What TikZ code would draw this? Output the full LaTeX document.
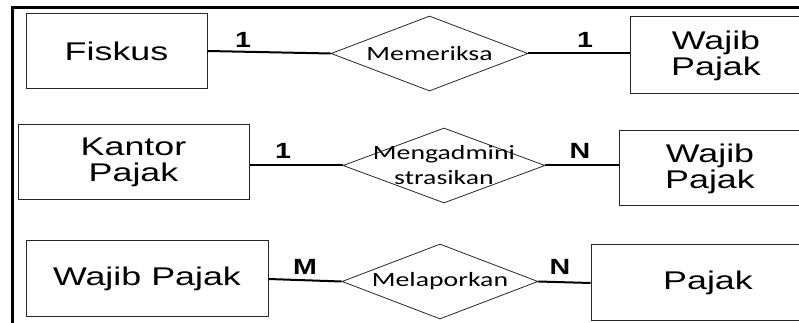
\documentclass[tikz,border=0pt]{standalone}
\usepackage{fontspec}
\setmainfont{Liberation Sans}
\newfontfamily\boxfont[FakeStretch=1.4]{Liberation Sans}
\newfontfamily\cardfont[FakeStretch=1.3]{Liberation Sans}
\newfontfamily\relfont[FakeStretch=1.37]{Carlito}
\usetikzlibrary{shapes.geometric}
\begin{document}
\begin{tikzpicture}[x=0.75pt,y=-0.75pt,
  entity/.style={draw=black!85, line width=0.75pt, rectangle, inner sep=0pt, align=center,
    font=\boxfont\fontsize{19.2}{19.5}\selectfont},
  rel/.style={draw=black!85, line width=0.6pt, diamond, inner sep=0pt},
  reltext/.style={align=center, inner sep=0pt, font=\relfont\fontsize{15.2}{18.75}\selectfont},
  card/.style={inner sep=0pt, font=\cardfont\bfseries\fontsize{16.5}{16.5}\selectfont},
  conn/.style={line width=1.5pt},
  frameline/.style={line width=2.25pt}]
\useasboundingbox (0,0) rectangle (799,323);
\clip (0,0) rectangle (799,323);
% frame
\coordinate (fr) at (810,8);
\coordinate (fc) at (12,8);
\coordinate (fb) at (12,330);
\draw[frameline] (fr) -- (fc) -- (fb);
% row 1
\node[entity, minimum width=135.75pt, minimum height=56.25pt] (e1) at (116.5,51) {Fiskus};
\node[rel, minimum width=147.75pt, minimum height=56.25pt,
  label={[reltext]center:Memeriksa}] (r1) at (429.5,53.5) {};
\node[entity, minimum width=135pt, minimum height=57.75pt,
  label={[entity, draw=none, xshift=-3pt]center:{Wajib\\Pajak}}] (e2) at (720,55.5) {};
\draw[conn] (e1.east) -- (r1.west);
\draw[conn] (r1.east) -- (r1.east -| e2.west);
\node[card] (c1) at (243,40) {1};
\node[card] (c2) at (585,40) {1};
% row 2
\node[entity, minimum width=173.25pt, minimum height=56.25pt] (e3) at (133.5,162) {Kantor\\Pajak};
\node[rel, minimum width=151.5pt, minimum height=56.25pt,
  label={[reltext]center:{Mengadmini\\strasikan}}] (r2) at (444,165.5) {};
\node[entity, minimum width=142.5pt, minimum height=56.25pt,
  label={[entity, draw=none, xshift=-3pt]center:{Wajib\\Pajak}}] (e4) at (714,168.5) {};
\draw[conn] (r2.west -| e3.east) -- (r2.west);
\draw[conn] (r2.east) -- (r2.east -| e4.west);
\node[card] (c3) at (283,151) {1};
\node[card] (c4) at (580,151) {N};
% row 3
\node[entity, minimum width=181.5pt, minimum height=57pt] (e5) at (147,279) {Wajib Pajak};
\node[rel, minimum width=147pt, minimum height=56.25pt,
  label={[reltext]center:Melaporkan}] (r3) at (440,281.5) {};
\node[entity, minimum width=175.5pt, minimum height=57pt] (e6) at (708,283) {Pajak};
\draw[conn] (e5.east) -- (r3.west);
\draw[conn] (r3.east) -- (e6.west);
\node[card] (c5) at (305,267) {M};
\node[card] (c6) at (560,267) {N};
\end{tikzpicture}
\end{document}
